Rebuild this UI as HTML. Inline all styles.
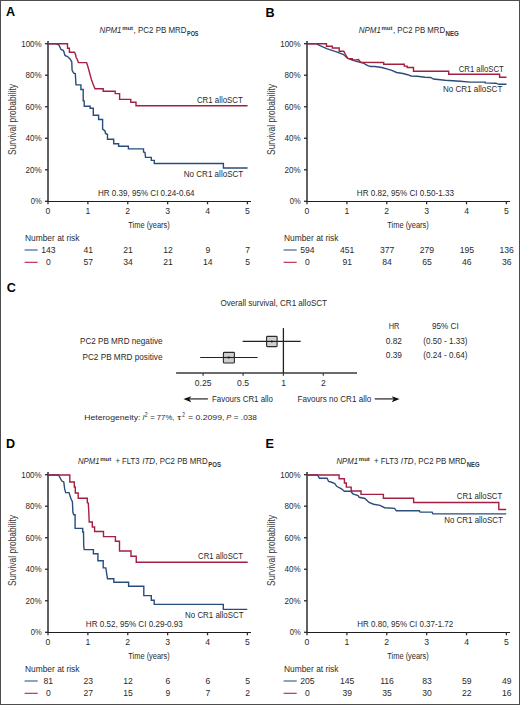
<!DOCTYPE html>
<html><head><meta charset="utf-8"><style>
html,body{margin:0;padding:0;background:#fff;}
svg{display:block;font-family:"Liberation Sans", sans-serif;}
</style></head><body>
<svg width="520" height="705" viewBox="0 0 520 705" fill="#2a2a2a">
<rect x="0" y="0" width="520" height="705" fill="#fff"/>
<text x="6.10" y="16.20" font-size="12.6" fill="#000" font-weight="bold">A</text>
<text x="99.40" y="33.00" font-size="8.6" textLength="22.10" lengthAdjust="spacingAndGlyphs" font-style="italic">NPM1</text>
<text x="122.20" y="29.90" font-size="6.0" textLength="10.80" lengthAdjust="spacingAndGlyphs" fill="#333" font-weight="bold">mut</text>
<text x="133.60" y="33.00" font-size="8.6" textLength="52.90" lengthAdjust="spacingAndGlyphs">, PC2 PB MRD</text>
<text x="187.00" y="35.90" font-size="6.6" textLength="11.50" lengthAdjust="spacingAndGlyphs" fill="#333" font-weight="bold">POS</text>
<line x1="48.00" y1="41.00" x2="48.00" y2="202.00" stroke="#2c2c2c" stroke-width="1.5"/>
<line x1="45.00" y1="201.30" x2="48.00" y2="201.30" stroke="#2c2c2c" stroke-width="1.3"/>
<text x="41.70" y="204.30" font-size="8.6" text-anchor="end" textLength="11.00" lengthAdjust="spacingAndGlyphs">0%</text>
<line x1="45.00" y1="169.78" x2="48.00" y2="169.78" stroke="#2c2c2c" stroke-width="1.3"/>
<text x="41.70" y="172.78" font-size="8.6" text-anchor="end" textLength="16.10" lengthAdjust="spacingAndGlyphs">20%</text>
<line x1="45.00" y1="138.26" x2="48.00" y2="138.26" stroke="#2c2c2c" stroke-width="1.3"/>
<text x="41.70" y="141.26" font-size="8.6" text-anchor="end" textLength="16.10" lengthAdjust="spacingAndGlyphs">40%</text>
<line x1="45.00" y1="106.74" x2="48.00" y2="106.74" stroke="#2c2c2c" stroke-width="1.3"/>
<text x="41.70" y="109.74" font-size="8.6" text-anchor="end" textLength="16.10" lengthAdjust="spacingAndGlyphs">60%</text>
<line x1="45.00" y1="75.22" x2="48.00" y2="75.22" stroke="#2c2c2c" stroke-width="1.3"/>
<text x="41.70" y="78.22" font-size="8.6" text-anchor="end" textLength="16.10" lengthAdjust="spacingAndGlyphs">80%</text>
<line x1="45.00" y1="43.70" x2="48.00" y2="43.70" stroke="#2c2c2c" stroke-width="1.3"/>
<text x="41.70" y="46.70" font-size="8.6" text-anchor="end" textLength="20.50" lengthAdjust="spacingAndGlyphs">100%</text>
<line x1="47.30" y1="201.50" x2="251.00" y2="201.50" stroke="#1e1e1e" stroke-width="1.1"/>
<line x1="48.00" y1="201.30" x2="48.00" y2="204.30" stroke="#2c2c2c" stroke-width="1.3"/>
<text x="48.00" y="214.30" font-size="8.6" text-anchor="middle">0</text>
<line x1="87.88" y1="201.30" x2="87.88" y2="204.30" stroke="#2c2c2c" stroke-width="1.3"/>
<text x="87.88" y="214.30" font-size="8.6" text-anchor="middle">1</text>
<line x1="127.76" y1="201.30" x2="127.76" y2="204.30" stroke="#2c2c2c" stroke-width="1.3"/>
<text x="127.76" y="214.30" font-size="8.6" text-anchor="middle">2</text>
<line x1="167.64" y1="201.30" x2="167.64" y2="204.30" stroke="#2c2c2c" stroke-width="1.3"/>
<text x="167.64" y="214.30" font-size="8.6" text-anchor="middle">3</text>
<line x1="207.52" y1="201.30" x2="207.52" y2="204.30" stroke="#2c2c2c" stroke-width="1.3"/>
<text x="207.52" y="214.30" font-size="8.6" text-anchor="middle">4</text>
<line x1="247.40" y1="201.30" x2="247.40" y2="204.30" stroke="#2c2c2c" stroke-width="1.3"/>
<text x="247.40" y="214.30" font-size="8.6" text-anchor="middle">5</text>
<text x="128.30" y="227.90" font-size="9.6" textLength="41.50" lengthAdjust="spacingAndGlyphs">Time (years)</text>
<text transform="translate(15.70,155.00) rotate(-90)" font-size="10.8" textLength="71" lengthAdjust="spacingAndGlyphs" fill="#3a3a3a" style="stroke:none">Survival probability</text>
<text x="25.00" y="240.50" font-size="8.6" textLength="54.50" lengthAdjust="spacingAndGlyphs">Number at risk</text>
<line x1="24.60" y1="250.00" x2="37.70" y2="250.00" stroke="#2d5a92" stroke-width="1.1"/>
<line x1="24.60" y1="262.30" x2="37.70" y2="262.30" stroke="#b8223f" stroke-width="1.1"/>
<text x="48.30" y="252.60" font-size="8.6" text-anchor="middle">143</text>
<text x="88.18" y="252.60" font-size="8.6" text-anchor="middle">41</text>
<text x="128.06" y="252.60" font-size="8.6" text-anchor="middle">21</text>
<text x="167.94" y="252.60" font-size="8.6" text-anchor="middle">12</text>
<text x="207.82" y="252.60" font-size="8.6" text-anchor="middle">9</text>
<text x="247.70" y="252.60" font-size="8.6" text-anchor="middle">7</text>
<text x="48.30" y="264.60" font-size="8.6" text-anchor="middle">0</text>
<text x="88.18" y="264.60" font-size="8.6" text-anchor="middle">57</text>
<text x="128.06" y="264.60" font-size="8.6" text-anchor="middle">34</text>
<text x="167.94" y="264.60" font-size="8.6" text-anchor="middle">21</text>
<text x="207.82" y="264.60" font-size="8.6" text-anchor="middle">14</text>
<text x="247.70" y="264.60" font-size="8.6" text-anchor="middle">5</text>
<text x="98.00" y="195.90" font-size="8.6" textLength="96.60" lengthAdjust="spacingAndGlyphs">HR 0.39, 95% CI 0.24-0.64</text>
<polyline fill="none" stroke="#2a4c7c" stroke-width="1.4" points="48.00,43.80 56.50,43.80 59.00,45.00 61.00,49.50 63.50,50.50 65.00,55.50 67.50,56.50 70.00,59.00 71.75,61.80 72.10,70.40 73.70,73.20 75.30,73.50 76.00,84.90 80.90,84.90 80.90,89.50 83.20,89.50 83.20,100.90 84.20,100.90 84.20,106.20 90.10,106.20 90.10,108.30 93.30,108.30 93.30,115.30 98.60,115.30 98.60,119.50 102.60,119.50 102.60,129.10 105.00,131.00 105.50,133.50 107.50,134.50 107.50,139.20 113.70,139.20 113.70,143.80 118.60,143.80 118.60,146.30 128.40,146.30 128.40,148.90 143.50,148.90 143.50,152.00 145.00,152.50 145.50,157.40 151.30,157.40 151.30,160.40 154.30,160.40 154.30,163.50 223.40,163.50 223.40,168.00 247.60,168.00"/>
<polyline fill="none" stroke="#a51f42" stroke-width="1.4" points="48.00,43.80 67.50,43.80 67.50,48.25 69.40,48.25 69.40,52.20 74.50,52.20 75.50,54.50 76.20,57.50 77.30,59.50 78.40,62.60 86.60,62.60 88.00,67.00 89.50,72.50 91.40,79.50 93.20,84.50 95.00,88.80 103.20,88.80 103.20,91.30 115.20,91.30 115.20,93.60 119.60,93.60 119.60,99.40 130.80,99.40 130.80,102.20 136.00,102.20 136.00,105.80 247.60,105.80"/>
<text x="196.90" y="103.00" font-size="8.6" textLength="45.90" lengthAdjust="spacingAndGlyphs">CR1 alloSCT</text>
<text x="183.75" y="177.00" font-size="8.6" textLength="59.50" lengthAdjust="spacingAndGlyphs">No CR1 alloSCT</text>
<text x="265.40" y="16.70" font-size="12.6" fill="#000" font-weight="bold">B</text>
<text x="358.80" y="33.00" font-size="8.6" textLength="22.10" lengthAdjust="spacingAndGlyphs" font-style="italic">NPM1</text>
<text x="381.60" y="29.90" font-size="6.0" textLength="10.80" lengthAdjust="spacingAndGlyphs" fill="#333" font-weight="bold">mut</text>
<text x="393.00" y="33.00" font-size="8.6" textLength="52.10" lengthAdjust="spacingAndGlyphs">, PC2 PB MRD</text>
<text x="445.50" y="35.90" font-size="6.6" textLength="13.40" lengthAdjust="spacingAndGlyphs" fill="#333" font-weight="bold">NEG</text>
<line x1="307.00" y1="41.00" x2="307.00" y2="202.00" stroke="#2c2c2c" stroke-width="1.5"/>
<line x1="304.00" y1="201.30" x2="307.00" y2="201.30" stroke="#2c2c2c" stroke-width="1.3"/>
<text x="300.70" y="204.30" font-size="8.6" text-anchor="end" textLength="11.00" lengthAdjust="spacingAndGlyphs">0%</text>
<line x1="304.00" y1="169.78" x2="307.00" y2="169.78" stroke="#2c2c2c" stroke-width="1.3"/>
<text x="300.70" y="172.78" font-size="8.6" text-anchor="end" textLength="16.10" lengthAdjust="spacingAndGlyphs">20%</text>
<line x1="304.00" y1="138.26" x2="307.00" y2="138.26" stroke="#2c2c2c" stroke-width="1.3"/>
<text x="300.70" y="141.26" font-size="8.6" text-anchor="end" textLength="16.10" lengthAdjust="spacingAndGlyphs">40%</text>
<line x1="304.00" y1="106.74" x2="307.00" y2="106.74" stroke="#2c2c2c" stroke-width="1.3"/>
<text x="300.70" y="109.74" font-size="8.6" text-anchor="end" textLength="16.10" lengthAdjust="spacingAndGlyphs">60%</text>
<line x1="304.00" y1="75.22" x2="307.00" y2="75.22" stroke="#2c2c2c" stroke-width="1.3"/>
<text x="300.70" y="78.22" font-size="8.6" text-anchor="end" textLength="16.10" lengthAdjust="spacingAndGlyphs">80%</text>
<line x1="304.00" y1="43.70" x2="307.00" y2="43.70" stroke="#2c2c2c" stroke-width="1.3"/>
<text x="300.70" y="46.70" font-size="8.6" text-anchor="end" textLength="20.50" lengthAdjust="spacingAndGlyphs">100%</text>
<line x1="306.30" y1="201.50" x2="510.00" y2="201.50" stroke="#1e1e1e" stroke-width="1.1"/>
<line x1="307.00" y1="201.30" x2="307.00" y2="204.30" stroke="#2c2c2c" stroke-width="1.3"/>
<text x="307.00" y="214.30" font-size="8.6" text-anchor="middle">0</text>
<line x1="346.88" y1="201.30" x2="346.88" y2="204.30" stroke="#2c2c2c" stroke-width="1.3"/>
<text x="346.88" y="214.30" font-size="8.6" text-anchor="middle">1</text>
<line x1="386.76" y1="201.30" x2="386.76" y2="204.30" stroke="#2c2c2c" stroke-width="1.3"/>
<text x="386.76" y="214.30" font-size="8.6" text-anchor="middle">2</text>
<line x1="426.64" y1="201.30" x2="426.64" y2="204.30" stroke="#2c2c2c" stroke-width="1.3"/>
<text x="426.64" y="214.30" font-size="8.6" text-anchor="middle">3</text>
<line x1="466.52" y1="201.30" x2="466.52" y2="204.30" stroke="#2c2c2c" stroke-width="1.3"/>
<text x="466.52" y="214.30" font-size="8.6" text-anchor="middle">4</text>
<line x1="506.40" y1="201.30" x2="506.40" y2="204.30" stroke="#2c2c2c" stroke-width="1.3"/>
<text x="506.40" y="214.30" font-size="8.6" text-anchor="middle">5</text>
<text x="387.30" y="227.90" font-size="9.6" textLength="41.50" lengthAdjust="spacingAndGlyphs">Time (years)</text>
<text transform="translate(274.70,155.00) rotate(-90)" font-size="10.8" textLength="71" lengthAdjust="spacingAndGlyphs" fill="#3a3a3a" style="stroke:none">Survival probability</text>
<text x="284.00" y="240.50" font-size="8.6" textLength="54.50" lengthAdjust="spacingAndGlyphs">Number at risk</text>
<line x1="283.60" y1="250.00" x2="296.70" y2="250.00" stroke="#2d5a92" stroke-width="1.1"/>
<line x1="283.60" y1="262.30" x2="296.70" y2="262.30" stroke="#b8223f" stroke-width="1.1"/>
<text x="307.30" y="252.60" font-size="8.6" text-anchor="middle">594</text>
<text x="347.18" y="252.60" font-size="8.6" text-anchor="middle">451</text>
<text x="387.06" y="252.60" font-size="8.6" text-anchor="middle">377</text>
<text x="426.94" y="252.60" font-size="8.6" text-anchor="middle">279</text>
<text x="466.82" y="252.60" font-size="8.6" text-anchor="middle">195</text>
<text x="506.70" y="252.60" font-size="8.6" text-anchor="middle">136</text>
<text x="307.30" y="264.60" font-size="8.6" text-anchor="middle">0</text>
<text x="347.18" y="264.60" font-size="8.6" text-anchor="middle">91</text>
<text x="387.06" y="264.60" font-size="8.6" text-anchor="middle">84</text>
<text x="426.94" y="264.60" font-size="8.6" text-anchor="middle">65</text>
<text x="466.82" y="264.60" font-size="8.6" text-anchor="middle">46</text>
<text x="506.70" y="264.60" font-size="8.6" text-anchor="middle">36</text>
<text x="356.80" y="195.90" font-size="8.6" textLength="97.20" lengthAdjust="spacingAndGlyphs">HR 0.82, 95% CI 0.50-1.33</text>
<polyline fill="none" stroke="#2a4c7c" stroke-width="1.4" points="307.00,43.80 316.50,43.80 320.00,45.70 327.30,48.80 332.70,50.70 337.30,52.20 343.50,54.50 347.70,58.40 355.40,61.10 363.00,63.00 367.70,65.70 370.80,66.50 375.00,66.50 381.70,67.50 387.50,69.20 391.80,70.40 396.60,72.50 402.90,73.50 407.70,74.70 411.00,76.00 417.30,76.30 425.00,77.30 430.60,77.50 433.50,79.00 445.00,80.20 460.40,81.30 470.00,82.10 485.20,82.10 485.20,82.90 495.80,83.20 499.10,84.30 506.50,84.30"/>
<polyline fill="none" stroke="#a51f42" stroke-width="1.4" points="307.00,43.80 326.50,43.80 326.50,46.30 332.30,46.30 332.30,48.00 339.20,48.00 339.20,51.30 343.80,51.30 345.50,54.50 347.70,58.40 352.30,58.60 352.30,59.90 355.40,59.90 358.50,59.50 360.80,62.40 383.70,62.50 383.70,64.30 404.30,64.30 404.30,66.10 407.20,66.10 407.20,67.50 413.50,67.50 413.50,71.25 448.70,71.25 448.70,74.30 499.60,74.30 499.60,77.30 506.50,77.30"/>
<text x="458.80" y="71.60" font-size="8.6" textLength="45.00" lengthAdjust="spacingAndGlyphs">CR1 alloSCT</text>
<text x="443.00" y="91.90" font-size="8.6" textLength="59.30" lengthAdjust="spacingAndGlyphs">No CR1 alloSCT</text>
<text x="6.80" y="292.10" font-size="12.6" fill="#000" font-weight="bold">C</text>
<text x="220.50" y="305.50" font-size="8.6" textLength="106.50" lengthAdjust="spacingAndGlyphs">Overall survival, CR1 alloSCT</text>
<text x="80.00" y="343.75" font-size="8.6" textLength="82.50" lengthAdjust="spacingAndGlyphs">PC2 PB MRD negative</text>
<text x="82.50" y="359.50" font-size="8.6" textLength="80.00" lengthAdjust="spacingAndGlyphs">PC2 PB MRD positive</text>
<text x="388.75" y="329.40" font-size="8.6" textLength="10.75" lengthAdjust="spacingAndGlyphs">HR</text>
<text x="432.00" y="329.40" font-size="8.6" textLength="26.75" lengthAdjust="spacingAndGlyphs">95% CI</text>
<text x="385.75" y="343.90" font-size="8.6" textLength="16.25" lengthAdjust="spacingAndGlyphs">0.82</text>
<text x="423.25" y="343.90" font-size="8.6" textLength="44.25" lengthAdjust="spacingAndGlyphs">(0.50 - 1.33)</text>
<text x="385.75" y="357.80" font-size="8.6" textLength="16.25" lengthAdjust="spacingAndGlyphs">0.39</text>
<text x="423.25" y="357.80" font-size="8.6" textLength="44.25" lengthAdjust="spacingAndGlyphs">(0.24 - 0.64)</text>
<line x1="176.10" y1="373.00" x2="357.00" y2="373.00" stroke="#3a3a3a" stroke-width="1.5"/>
<line x1="203.10" y1="373.00" x2="203.10" y2="375.80" stroke="#3a3a3a" stroke-width="1.2"/>
<line x1="243.10" y1="373.00" x2="243.10" y2="375.80" stroke="#3a3a3a" stroke-width="1.2"/>
<line x1="283.40" y1="373.00" x2="283.40" y2="375.80" stroke="#3a3a3a" stroke-width="1.2"/>
<line x1="323.30" y1="373.00" x2="323.30" y2="375.80" stroke="#3a3a3a" stroke-width="1.2"/>
<text x="203.10" y="386.00" font-size="8.6" text-anchor="middle">0.25</text>
<text x="243.10" y="386.00" font-size="8.6" text-anchor="middle">0.5</text>
<text x="283.60" y="386.00" font-size="8.6" text-anchor="middle">1</text>
<text x="323.50" y="386.00" font-size="8.6" text-anchor="middle">2</text>
<line x1="283.40" y1="328.10" x2="283.40" y2="373.00" stroke="#222" stroke-width="1.3"/>
<line x1="242.60" y1="341.40" x2="300.70" y2="341.40" stroke="#222" stroke-width="1.2"/>
<rect x="266.6" y="336.4" width="10.5" height="10.2" rx="0.8" fill="#cfcfcf" stroke="#2a2a2a" stroke-width="1.1"/>
<line x1="266.00" y1="341.40" x2="277.60" y2="341.40" stroke="#222" stroke-width="1.2"/>
<circle cx="271.8" cy="341.4" r="1.0" fill="#111"/>
<line x1="200.20" y1="357.50" x2="257.60" y2="357.50" stroke="#222" stroke-width="1.2"/>
<rect x="223.4" y="352.4" width="11.0" height="10.6" rx="0.8" fill="#cfcfcf" stroke="#2a2a2a" stroke-width="1.1"/>
<line x1="222.80" y1="357.50" x2="235.00" y2="357.50" stroke="#222" stroke-width="1.2"/>
<circle cx="228.8" cy="357.5" r="1.0" fill="#111"/>
<line x1="189.50" y1="398.90" x2="207.90" y2="398.90" stroke="#444" stroke-width="1.4"/>
<path d="M183.4,398.9 L191.2,396.2 L189.4,398.9 L191.2,402.2 Z" fill="#111"/>
<text x="212.00" y="401.90" font-size="8.6" textLength="61.00" lengthAdjust="spacingAndGlyphs">Favours CR1 allo</text>
<text x="297.50" y="401.90" font-size="8.6" textLength="73.75" lengthAdjust="spacingAndGlyphs">Favours no CR1 allo</text>
<line x1="374.70" y1="398.90" x2="393.50" y2="398.90" stroke="#444" stroke-width="1.4"/>
<path d="M399.6,398.9 L391.8,396.2 L393.6,398.9 L391.8,402.2 Z" fill="#111"/>
<text x="84.20" y="420.40" font-size="8.1" textLength="56.30" lengthAdjust="spacingAndGlyphs">Heterogeneity:</text>
<text x="142.60" y="420.40" font-size="8.1" textLength="2.00" lengthAdjust="spacingAndGlyphs" font-style="italic">I</text>
<text x="144.80" y="417.10" font-size="6.4" textLength="2.80" lengthAdjust="spacingAndGlyphs">2</text>
<text x="150.20" y="420.40" font-size="8.1" textLength="24.20" lengthAdjust="spacingAndGlyphs">= 77%,</text>
<text x="176.90" y="420.40" font-size="8.1" textLength="4.30" lengthAdjust="spacingAndGlyphs">&#964;</text>
<text x="182.20" y="417.10" font-size="6.4" textLength="2.70" lengthAdjust="spacingAndGlyphs">2</text>
<text x="187.90" y="420.40" font-size="8.1" textLength="36.50" lengthAdjust="spacingAndGlyphs">= 0.2099,</text>
<text x="226.25" y="420.40" font-size="8.1" textLength="5.00" lengthAdjust="spacingAndGlyphs" font-style="italic">P</text>
<text x="233.75" y="420.40" font-size="8.1" textLength="23.15" lengthAdjust="spacingAndGlyphs">= .038</text>
<text x="6.00" y="447.90" font-size="12.6" fill="#000" font-weight="bold">D</text>
<text x="77.90" y="464.30" font-size="8.6" textLength="21.60" lengthAdjust="spacingAndGlyphs" font-style="italic">NPM1</text>
<text x="100.20" y="461.30" font-size="6.0" textLength="11.00" lengthAdjust="spacingAndGlyphs" fill="#333" font-weight="bold">mut</text>
<text x="115.40" y="464.30" font-size="8.6" textLength="24.20" lengthAdjust="spacingAndGlyphs">+ FLT3</text>
<text x="142.20" y="464.30" font-size="8.6" textLength="12.80" lengthAdjust="spacingAndGlyphs" font-style="italic">ITD</text>
<text x="155.30" y="464.30" font-size="8.6" textLength="52.40" lengthAdjust="spacingAndGlyphs">, PC2 PB MRD</text>
<text x="208.20" y="466.70" font-size="6.6" textLength="12.80" lengthAdjust="spacingAndGlyphs" fill="#333" font-weight="bold">POS</text>
<line x1="48.00" y1="472.00" x2="48.00" y2="633.00" stroke="#2c2c2c" stroke-width="1.5"/>
<line x1="45.00" y1="632.30" x2="48.00" y2="632.30" stroke="#2c2c2c" stroke-width="1.3"/>
<text x="41.70" y="635.30" font-size="8.6" text-anchor="end" textLength="11.00" lengthAdjust="spacingAndGlyphs">0%</text>
<line x1="45.00" y1="600.78" x2="48.00" y2="600.78" stroke="#2c2c2c" stroke-width="1.3"/>
<text x="41.70" y="603.78" font-size="8.6" text-anchor="end" textLength="16.10" lengthAdjust="spacingAndGlyphs">20%</text>
<line x1="45.00" y1="569.26" x2="48.00" y2="569.26" stroke="#2c2c2c" stroke-width="1.3"/>
<text x="41.70" y="572.26" font-size="8.6" text-anchor="end" textLength="16.10" lengthAdjust="spacingAndGlyphs">40%</text>
<line x1="45.00" y1="537.74" x2="48.00" y2="537.74" stroke="#2c2c2c" stroke-width="1.3"/>
<text x="41.70" y="540.74" font-size="8.6" text-anchor="end" textLength="16.10" lengthAdjust="spacingAndGlyphs">60%</text>
<line x1="45.00" y1="506.22" x2="48.00" y2="506.22" stroke="#2c2c2c" stroke-width="1.3"/>
<text x="41.70" y="509.22" font-size="8.6" text-anchor="end" textLength="16.10" lengthAdjust="spacingAndGlyphs">80%</text>
<line x1="45.00" y1="474.70" x2="48.00" y2="474.70" stroke="#2c2c2c" stroke-width="1.3"/>
<text x="41.70" y="477.70" font-size="8.6" text-anchor="end" textLength="20.50" lengthAdjust="spacingAndGlyphs">100%</text>
<line x1="47.30" y1="632.50" x2="251.00" y2="632.50" stroke="#1e1e1e" stroke-width="1.1"/>
<line x1="48.00" y1="632.30" x2="48.00" y2="635.30" stroke="#2c2c2c" stroke-width="1.3"/>
<text x="48.00" y="645.30" font-size="8.6" text-anchor="middle">0</text>
<line x1="87.88" y1="632.30" x2="87.88" y2="635.30" stroke="#2c2c2c" stroke-width="1.3"/>
<text x="87.88" y="645.30" font-size="8.6" text-anchor="middle">1</text>
<line x1="127.76" y1="632.30" x2="127.76" y2="635.30" stroke="#2c2c2c" stroke-width="1.3"/>
<text x="127.76" y="645.30" font-size="8.6" text-anchor="middle">2</text>
<line x1="167.64" y1="632.30" x2="167.64" y2="635.30" stroke="#2c2c2c" stroke-width="1.3"/>
<text x="167.64" y="645.30" font-size="8.6" text-anchor="middle">3</text>
<line x1="207.52" y1="632.30" x2="207.52" y2="635.30" stroke="#2c2c2c" stroke-width="1.3"/>
<text x="207.52" y="645.30" font-size="8.6" text-anchor="middle">4</text>
<line x1="247.40" y1="632.30" x2="247.40" y2="635.30" stroke="#2c2c2c" stroke-width="1.3"/>
<text x="247.40" y="645.30" font-size="8.6" text-anchor="middle">5</text>
<text x="128.30" y="658.90" font-size="9.6" textLength="41.50" lengthAdjust="spacingAndGlyphs">Time (years)</text>
<text transform="translate(15.70,586.00) rotate(-90)" font-size="10.8" textLength="71" lengthAdjust="spacingAndGlyphs" fill="#3a3a3a" style="stroke:none">Survival probability</text>
<text x="25.00" y="671.50" font-size="8.6" textLength="54.50" lengthAdjust="spacingAndGlyphs">Number at risk</text>
<line x1="24.60" y1="681.00" x2="37.70" y2="681.00" stroke="#2d5a92" stroke-width="1.1"/>
<line x1="24.60" y1="693.30" x2="37.70" y2="693.30" stroke="#b8223f" stroke-width="1.1"/>
<text x="48.30" y="683.60" font-size="8.6" text-anchor="middle">81</text>
<text x="88.18" y="683.60" font-size="8.6" text-anchor="middle">23</text>
<text x="128.06" y="683.60" font-size="8.6" text-anchor="middle">12</text>
<text x="167.94" y="683.60" font-size="8.6" text-anchor="middle">6</text>
<text x="207.82" y="683.60" font-size="8.6" text-anchor="middle">6</text>
<text x="247.70" y="683.60" font-size="8.6" text-anchor="middle">5</text>
<text x="48.30" y="695.60" font-size="8.6" text-anchor="middle">0</text>
<text x="88.18" y="695.60" font-size="8.6" text-anchor="middle">27</text>
<text x="128.06" y="695.60" font-size="8.6" text-anchor="middle">15</text>
<text x="167.94" y="695.60" font-size="8.6" text-anchor="middle">9</text>
<text x="207.82" y="695.60" font-size="8.6" text-anchor="middle">7</text>
<text x="247.70" y="695.60" font-size="8.6" text-anchor="middle">2</text>
<text x="85.80" y="626.60" font-size="8.6" textLength="97.00" lengthAdjust="spacingAndGlyphs">HR 0.52, 95% CI 0.29-0.93</text>
<polyline fill="none" stroke="#2a4c7c" stroke-width="1.4" points="48.00,475.00 58.50,475.00 61.80,481.00 63.75,482.00 64.70,489.20 65.70,492.60 69.00,492.60 71.00,498.80 72.40,501.70 72.90,512.30 73.70,514.80 75.10,514.80 75.10,528.40 82.70,528.40 82.70,532.00 83.50,532.00 83.75,546.50 84.20,549.60 93.40,549.60 93.40,553.70 97.90,553.70 97.90,560.80 103.20,560.80 103.20,567.90 105.80,567.90 106.50,572.30 107.50,578.80 113.80,578.80 113.80,582.30 128.60,582.30 128.60,586.30 143.80,586.30 143.80,595.60 151.30,595.60 151.30,600.20 154.20,600.20 154.20,604.40 223.30,604.40 223.30,609.40 247.30,609.40"/>
<polyline fill="none" stroke="#a51f42" stroke-width="1.4" points="48.00,475.00 69.80,475.00 69.80,482.00 74.30,482.00 74.30,487.00 75.30,487.00 75.30,493.00 78.20,493.00 78.20,498.30 87.30,498.30 87.30,502.80 88.30,503.00 88.80,512.00 89.20,522.00 92.30,522.00 92.30,527.00 94.60,527.00 94.60,531.50 103.50,531.50 103.50,536.60 115.40,536.60 115.40,541.30 119.50,541.30 119.50,551.00 131.00,551.00 131.00,556.30 136.25,556.30 136.25,562.30 247.70,562.30"/>
<text x="198.10" y="559.40" font-size="8.6" textLength="45.00" lengthAdjust="spacingAndGlyphs">CR1 alloSCT</text>
<text x="185.10" y="618.10" font-size="8.6" textLength="58.40" lengthAdjust="spacingAndGlyphs">No CR1 alloSCT</text>
<text x="265.40" y="447.90" font-size="12.6" fill="#000" font-weight="bold">E</text>
<text x="336.50" y="464.40" font-size="8.6" textLength="21.60" lengthAdjust="spacingAndGlyphs" font-style="italic">NPM1</text>
<text x="358.80" y="461.40" font-size="6.0" textLength="11.00" lengthAdjust="spacingAndGlyphs" fill="#333" font-weight="bold">mut</text>
<text x="374.00" y="464.40" font-size="8.6" textLength="24.20" lengthAdjust="spacingAndGlyphs">+ FLT3</text>
<text x="400.80" y="464.40" font-size="8.6" textLength="12.80" lengthAdjust="spacingAndGlyphs" font-style="italic">ITD</text>
<text x="413.90" y="464.40" font-size="8.6" textLength="52.40" lengthAdjust="spacingAndGlyphs">, PC2 PB MRD</text>
<text x="466.80" y="466.80" font-size="6.6" textLength="12.80" lengthAdjust="spacingAndGlyphs" fill="#333" font-weight="bold">NEG</text>
<line x1="307.00" y1="472.00" x2="307.00" y2="633.00" stroke="#2c2c2c" stroke-width="1.5"/>
<line x1="304.00" y1="632.30" x2="307.00" y2="632.30" stroke="#2c2c2c" stroke-width="1.3"/>
<text x="300.70" y="635.30" font-size="8.6" text-anchor="end" textLength="11.00" lengthAdjust="spacingAndGlyphs">0%</text>
<line x1="304.00" y1="600.78" x2="307.00" y2="600.78" stroke="#2c2c2c" stroke-width="1.3"/>
<text x="300.70" y="603.78" font-size="8.6" text-anchor="end" textLength="16.10" lengthAdjust="spacingAndGlyphs">20%</text>
<line x1="304.00" y1="569.26" x2="307.00" y2="569.26" stroke="#2c2c2c" stroke-width="1.3"/>
<text x="300.70" y="572.26" font-size="8.6" text-anchor="end" textLength="16.10" lengthAdjust="spacingAndGlyphs">40%</text>
<line x1="304.00" y1="537.74" x2="307.00" y2="537.74" stroke="#2c2c2c" stroke-width="1.3"/>
<text x="300.70" y="540.74" font-size="8.6" text-anchor="end" textLength="16.10" lengthAdjust="spacingAndGlyphs">60%</text>
<line x1="304.00" y1="506.22" x2="307.00" y2="506.22" stroke="#2c2c2c" stroke-width="1.3"/>
<text x="300.70" y="509.22" font-size="8.6" text-anchor="end" textLength="16.10" lengthAdjust="spacingAndGlyphs">80%</text>
<line x1="304.00" y1="474.70" x2="307.00" y2="474.70" stroke="#2c2c2c" stroke-width="1.3"/>
<text x="300.70" y="477.70" font-size="8.6" text-anchor="end" textLength="20.50" lengthAdjust="spacingAndGlyphs">100%</text>
<line x1="306.30" y1="632.50" x2="510.00" y2="632.50" stroke="#1e1e1e" stroke-width="1.1"/>
<line x1="307.00" y1="632.30" x2="307.00" y2="635.30" stroke="#2c2c2c" stroke-width="1.3"/>
<text x="307.00" y="645.30" font-size="8.6" text-anchor="middle">0</text>
<line x1="346.88" y1="632.30" x2="346.88" y2="635.30" stroke="#2c2c2c" stroke-width="1.3"/>
<text x="346.88" y="645.30" font-size="8.6" text-anchor="middle">1</text>
<line x1="386.76" y1="632.30" x2="386.76" y2="635.30" stroke="#2c2c2c" stroke-width="1.3"/>
<text x="386.76" y="645.30" font-size="8.6" text-anchor="middle">2</text>
<line x1="426.64" y1="632.30" x2="426.64" y2="635.30" stroke="#2c2c2c" stroke-width="1.3"/>
<text x="426.64" y="645.30" font-size="8.6" text-anchor="middle">3</text>
<line x1="466.52" y1="632.30" x2="466.52" y2="635.30" stroke="#2c2c2c" stroke-width="1.3"/>
<text x="466.52" y="645.30" font-size="8.6" text-anchor="middle">4</text>
<line x1="506.40" y1="632.30" x2="506.40" y2="635.30" stroke="#2c2c2c" stroke-width="1.3"/>
<text x="506.40" y="645.30" font-size="8.6" text-anchor="middle">5</text>
<text x="387.30" y="658.90" font-size="9.6" textLength="41.50" lengthAdjust="spacingAndGlyphs">Time (years)</text>
<text transform="translate(274.70,586.00) rotate(-90)" font-size="10.8" textLength="71" lengthAdjust="spacingAndGlyphs" fill="#3a3a3a" style="stroke:none">Survival probability</text>
<text x="284.00" y="671.50" font-size="8.6" textLength="54.50" lengthAdjust="spacingAndGlyphs">Number at risk</text>
<line x1="283.60" y1="681.00" x2="296.70" y2="681.00" stroke="#2d5a92" stroke-width="1.1"/>
<line x1="283.60" y1="693.30" x2="296.70" y2="693.30" stroke="#b8223f" stroke-width="1.1"/>
<text x="307.30" y="683.60" font-size="8.6" text-anchor="middle">205</text>
<text x="347.18" y="683.60" font-size="8.6" text-anchor="middle">145</text>
<text x="387.06" y="683.60" font-size="8.6" text-anchor="middle">116</text>
<text x="426.94" y="683.60" font-size="8.6" text-anchor="middle">83</text>
<text x="466.82" y="683.60" font-size="8.6" text-anchor="middle">59</text>
<text x="506.70" y="683.60" font-size="8.6" text-anchor="middle">49</text>
<text x="307.30" y="695.60" font-size="8.6" text-anchor="middle">0</text>
<text x="347.18" y="695.60" font-size="8.6" text-anchor="middle">39</text>
<text x="387.06" y="695.60" font-size="8.6" text-anchor="middle">35</text>
<text x="426.94" y="695.60" font-size="8.6" text-anchor="middle">30</text>
<text x="466.82" y="695.60" font-size="8.6" text-anchor="middle">22</text>
<text x="506.70" y="695.60" font-size="8.6" text-anchor="middle">16</text>
<text x="357.30" y="626.50" font-size="8.6" textLength="95.90" lengthAdjust="spacingAndGlyphs">HR 0.80, 95% CI 0.37-1.72</text>
<polyline fill="none" stroke="#2a4c7c" stroke-width="1.4" points="307.00,475.00 317.50,475.00 319.40,478.20 327.10,478.20 328.60,481.50 331.00,482.00 334.80,483.50 336.70,486.30 338.70,487.50 341.50,488.75 344.40,491.30 350.70,491.30 352.90,493.80 358.10,495.60 359.20,497.30 365.00,498.50 369.00,502.50 373.60,504.20 380.00,505.40 384.60,507.70 394.60,508.40 396.30,510.80 419.40,510.80 420.20,512.10 432.10,512.10 432.90,513.90 506.20,513.90"/>
<polyline fill="none" stroke="#a51f42" stroke-width="1.4" points="307.00,475.00 339.10,475.00 339.10,478.80 344.40,478.80 344.40,483.00 346.30,483.00 346.30,487.10 351.20,487.10 351.20,491.00 361.00,491.00 361.00,494.40 383.40,494.40 383.40,498.20 413.60,498.20 413.60,502.50 498.80,502.50 498.80,509.50 506.20,509.50"/>
<text x="456.80" y="498.70" font-size="8.6" textLength="45.40" lengthAdjust="spacingAndGlyphs">CR1 alloSCT</text>
<text x="444.20" y="522.60" font-size="8.6" textLength="58.70" lengthAdjust="spacingAndGlyphs">No CR1 alloSCT</text>
<rect x="0.5" y="0.5" width="519" height="704" fill="none" stroke="#4d4d4d" stroke-width="1"/>
</svg>
</body></html>
